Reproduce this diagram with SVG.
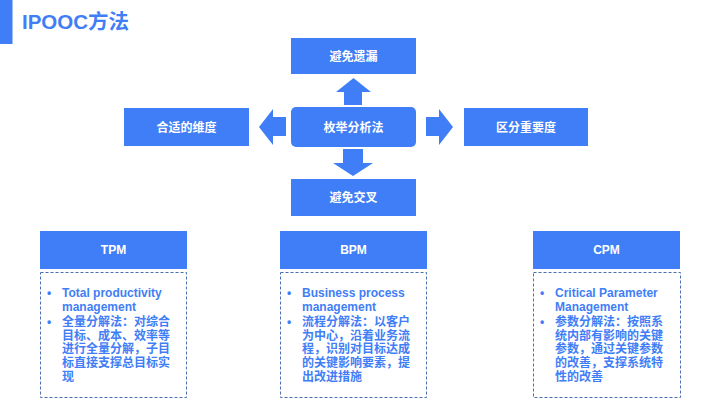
<svg xmlns="http://www.w3.org/2000/svg" width="720" height="405" viewBox="0 0 720 405">
<style>
.box{fill:#3F7EF6}
.arr{fill:#3F7EF6}
.bt{font-family:"Liberation Sans","Noto Sans CJK SC",sans-serif;font-weight:bold;font-size:12px;fill:#fff;text-anchor:middle}
.ht{font-family:"Liberation Sans","Noto Sans CJK SC",sans-serif;font-weight:bold;font-size:12px;fill:#fff;text-anchor:middle}
.dash{fill:none;stroke:#4A6FB0;stroke-width:1;stroke-dasharray:3,2}
.lt{font-family:"Liberation Sans","Noto Sans CJK SC",sans-serif;font-weight:bold;font-size:12px;fill:#3F7EF6}
</style>
<rect width="720" height="405" fill="#fff"/>
<g id="title">
<rect x="0" y="0" width="12.5" height="44" fill="#3F7EF6"/>
<text x="22" y="29" font-family="Liberation Sans,'Noto Sans CJK SC',sans-serif" font-weight="bold" font-size="20.5" fill="#3F7EF6">IPOOC方法</text>
</g>
<g id="connectors">
<polygon class="arr" points="344,105 344,92 336,92 353.5,78 371,92 362,92 362,105"/>
<polygon class="arr" points="343,149 363,149 363,163 373,163 353,176 333,163 343,163"/>
<polygon class="arr" points="286,117 273,117 273,109 259,127 273,145 273,136 286,136"/>
<polygon class="arr" points="426,117 439,117 439,109 453,127 439,145 439,136 426,136"/>
</g>
<g id="center">
<rect class="box" x="291" y="107" width="125" height="40" rx="5"/>
<text class="bt" x="353.5" y="131.5">枚举分析法</text>
</g>
<g id="top">
<rect class="box" x="291" y="38" width="125" height="36"/>
<text class="bt" x="353.5" y="60.5">避免遗漏</text>
</g>
<g id="bottom">
<rect class="box" x="291" y="179" width="125" height="37"/>
<text class="bt" x="353.5" y="201.5">避免交叉</text>
</g>
<g id="left">
<rect class="box" x="124" y="108" width="125" height="38"/>
<text class="bt" x="186.5" y="131.5">合适的维度</text>
</g>
<g id="right">
<rect class="box" x="464" y="108" width="124" height="38"/>
<text class="bt" x="526" y="131.5">区分重要度</text>
</g>
<g id="tpm">
<rect class="box" x="40" y="231" width="147" height="38"/>
<text class="ht" x="113.5" y="254">TPM</text>
<rect class="dash" x="40.5" y="272.5" width="146" height="125"/>
<text class="lt"><tspan x="47" y="297">•</tspan><tspan x="62" y="297">Total productivity</tspan><tspan x="62" y="311">management</tspan><tspan x="47" y="326">•</tspan><tspan x="62" y="326">全量分解法：对综合</tspan><tspan x="62" y="339.5">目标、成本、效率等</tspan><tspan x="62" y="353">进行全量分解，子目</tspan><tspan x="62" y="366.5">标直接支撑总目标实</tspan><tspan x="62" y="380.5">现</tspan></text>
</g>
<g id="bpm">
<rect class="box" x="280" y="231" width="147" height="38"/>
<text class="ht" x="353.5" y="254">BPM</text>
<rect class="dash" x="280.5" y="272.5" width="146" height="125"/>
<text class="lt"><tspan x="287" y="297">•</tspan><tspan x="302" y="297">Business process</tspan><tspan x="302" y="311">management</tspan><tspan x="287" y="326">•</tspan><tspan x="302" y="326">流程分解法：以客户</tspan><tspan x="302" y="339.5">为中心，沿着业务流</tspan><tspan x="302" y="353">程，识别对目标达成</tspan><tspan x="302" y="366.5">的关键影响要素，提</tspan><tspan x="302" y="380.5">出改进措施</tspan></text>
</g>
<g id="cpm">
<rect class="box" x="533" y="231" width="147" height="38"/>
<text class="ht" x="606.5" y="254">CPM</text>
<rect class="dash" x="533.5" y="272.5" width="147" height="125"/>
<text class="lt"><tspan x="540" y="297">•</tspan><tspan x="555" y="297">Critical Parameter</tspan><tspan x="555" y="311">Management</tspan><tspan x="540" y="326">•</tspan><tspan x="555" y="326">参数分解法：按照系</tspan><tspan x="555" y="339.5">统内部有影响的关键</tspan><tspan x="555" y="353">参数，通过关键参数</tspan><tspan x="555" y="366.5">的改善，支撑系统特</tspan><tspan x="555" y="380.5">性的改善</tspan></text>
</g>
</svg>
